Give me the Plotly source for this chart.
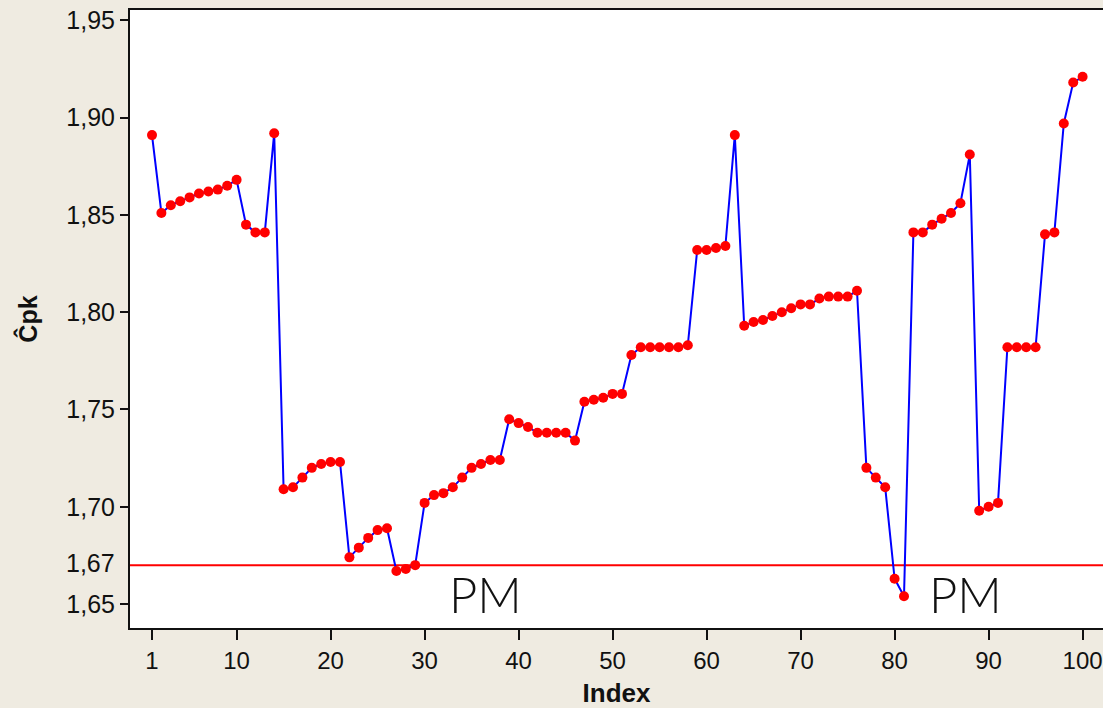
import plotly.graph_objects as go

index = list(range(1, 101))
cpk = [
    1.891, 1.851, 1.855, 1.857, 1.859, 1.861, 1.862, 1.863, 1.865, 1.868,
    1.845, 1.841, 1.841, 1.892, 1.709, 1.710, 1.715, 1.720, 1.722, 1.723,
    1.723, 1.674, 1.679, 1.684, 1.688, 1.689, 1.667, 1.668, 1.670, 1.702,
    1.706, 1.707, 1.710, 1.715, 1.720, 1.722, 1.724, 1.724, 1.745, 1.743,
    1.741, 1.738, 1.738, 1.738, 1.738, 1.734, 1.754, 1.755, 1.756, 1.758,
    1.758, 1.778, 1.782, 1.782, 1.782, 1.782, 1.782, 1.783, 1.832, 1.832,
    1.833, 1.834, 1.891, 1.793, 1.795, 1.796, 1.798, 1.800, 1.802, 1.804,
    1.804, 1.807, 1.808, 1.808, 1.808, 1.811, 1.720, 1.715, 1.710, 1.663,
    1.654, 1.841, 1.841, 1.845, 1.848, 1.851, 1.856, 1.881, 1.698, 1.700,
    1.702, 1.782, 1.782, 1.782, 1.782, 1.840, 1.841, 1.897, 1.918, 1.921,
]
spec_limit = 1.67
x_ticks = [1, 10, 20, 30, 40, 50, 60, 70, 80, 90, 100]
y_ticks = [1.65, 1.70, 1.75, 1.80, 1.85, 1.90, 1.95]
y_tick_text = ["1,65", "1,70", "1,75", "1,80", "1,85", "1,90", "1,95"]
pm_x = [36.5, 87.5]
pm_text = ["PM", "PM"]

FONT = "Liberation Sans, Arial, sans-serif"
INK = "#111111"

fig = go.Figure()
fig.add_trace(go.Scatter(
    x=index, y=cpk, mode="lines+markers",
    line=dict(color="#0000FF", width=2),
    marker=dict(color="#FF0000", size=10),
    showlegend=False, hoverinfo="skip",
))
fig.add_shape(type="line", xref="paper", yref="y", x0=0, x1=1,
              y0=spec_limit, y1=spec_limit,
              line=dict(color="#FF0000", width=2), layer="below")

for xv, txt in zip(pm_x, pm_text):
    fig.add_annotation(x=xv, y=1.6569, text=txt, showarrow=False,
                       xref="x", yref="y", yanchor="middle", yshift=-3,
                       font=dict(family="Lato", size=49, color=INK, weight=300))

fig.add_annotation(x=0, xref="paper", xanchor="right", xshift=-13,
                   y=spec_limit, yref="y", yshift=2, text="1,67", showarrow=False,
                   font=dict(family=FONT, size=25, color=INK))

fig.update_layout(
    width=1103, height=708,
    margin=dict(l=130, r=0, t=10, b=80),
    paper_bgcolor="#EFEBE1",
    plot_bgcolor="#FFFFFF",
    showlegend=False,
)
fig.update_xaxes(
    range=[-1.34, 102.17], tickvals=x_ticks, ticktext=[str(t) for t in x_ticks],
    showgrid=False, zeroline=False,
    showline=True, linecolor=INK, linewidth=2, mirror=True,
    ticks="outside", ticklen=10, tickwidth=1.5, tickcolor=INK,
    tickfont=dict(family=FONT, size=24, color=INK),
    title=dict(text="<b>Index</b>", font=dict(family=FONT, size=26, color=INK), standoff=11),
)
fig.update_yaxes(
    range=[1.6377, 1.9553], tickvals=y_ticks, ticktext=y_tick_text,
    showgrid=False, zeroline=False,
    showline=True, linecolor=INK, linewidth=2, mirror=False,
    ticks="outside", ticklen=8, tickwidth=1.5, tickcolor=INK,
    tickfont=dict(family=FONT, size=25, color=INK),
    title=dict(text="<b>Ĉpk</b>", font=dict(family=FONT, size=25, color=INK), standoff=22),
)

fig.write_html("out.html",
               config={"displayModeBar": False},
               post_script="document.body.style.margin='0';document.body.style.overflow='hidden';")
